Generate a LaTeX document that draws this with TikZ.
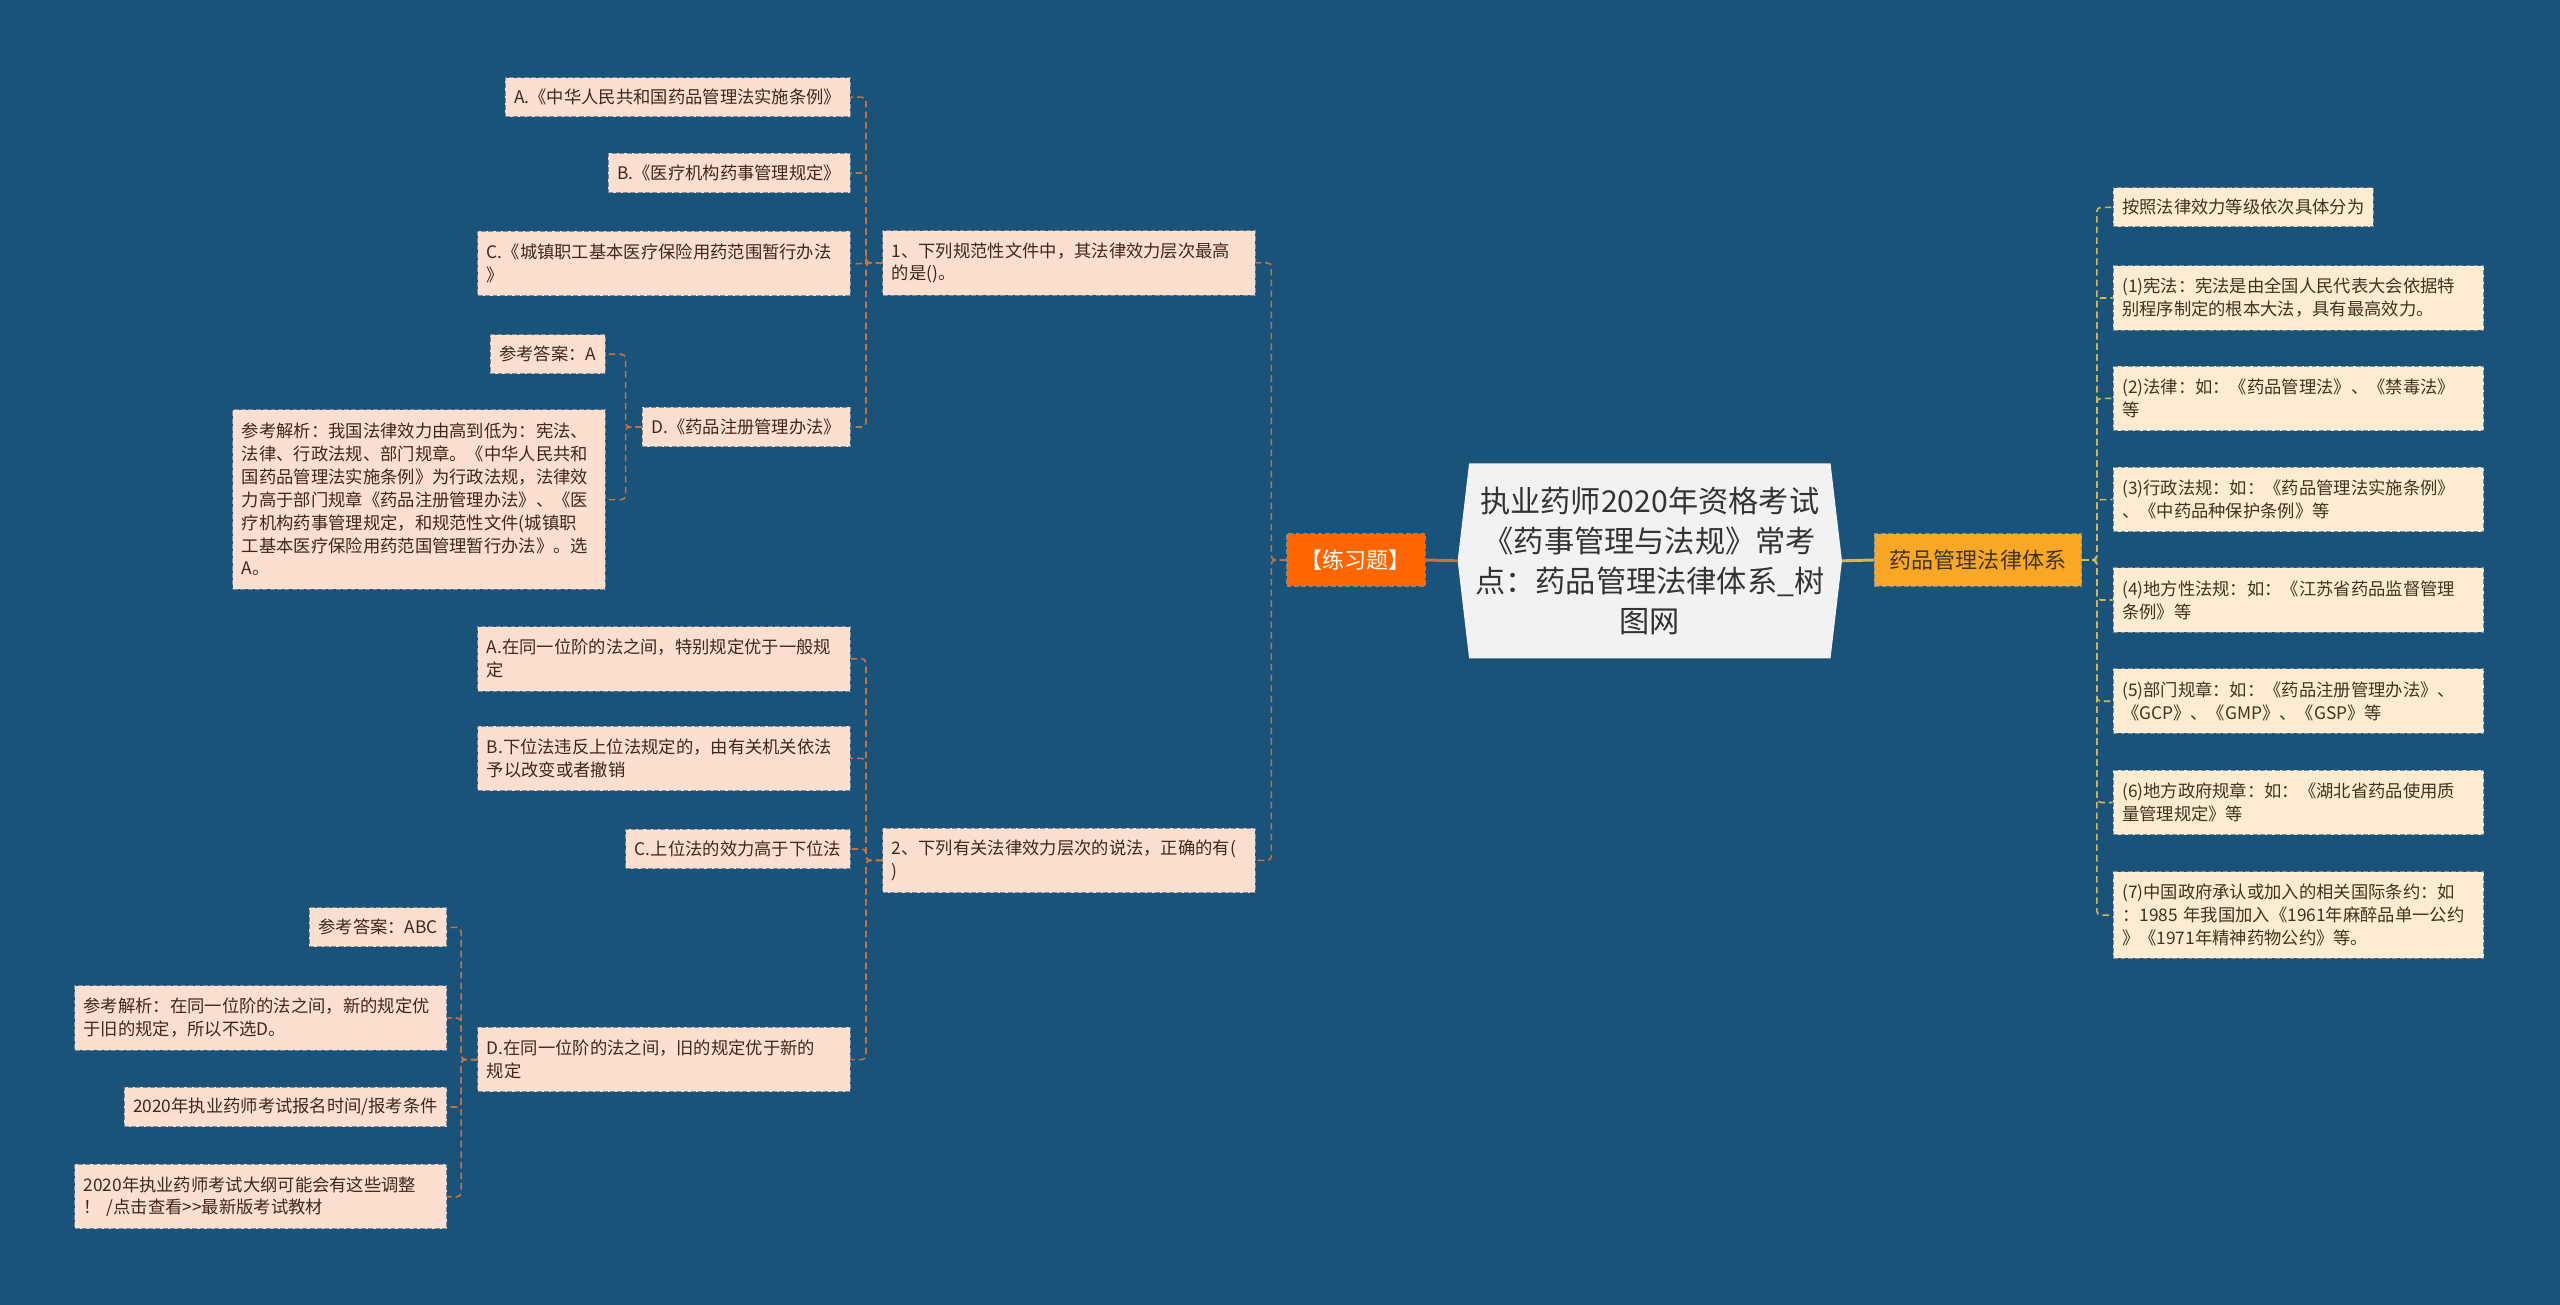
\documentclass[tikz,border=0pt]{standalone}
\usepackage{fontspec}
\setmainfont{Noto Sans CJK SC}
\usetikzlibrary{backgrounds}
\definecolor{bg}{RGB}{26,83,121}
\definecolor{peach}{RGB}{252,223,207}
\definecolor{cream}{RGB}{253,236,209}
\definecolor{ltext}{RGB}{62,40,28}
\definecolor{rtext}{RGB}{66,50,30}
\definecolor{boxline}{RGB}{120,140,160}
\definecolor{lline}{RGB}{200,112,62}
\definecolor{rline}{RGB}{216,182,82}
\definecolor{orng}{RGB}{255,102,0}
\definecolor{ambr}{RGB}{249,168,37}
\definecolor{cfill}{RGB}{242,242,242}
\definecolor{ctext}{RGB}{51,51,51}
\begin{document}
\begin{tikzpicture}[x=1pt,y=-1pt,
  box/.style={rectangle, draw=boxline, line width=0.6pt, dash pattern=on 3pt off 1.5pt,
    inner xsep=5.5pt, inner ysep=2pt, font=\fontsize{10.6pt}{14pt}\selectfont,
    align=left, minimum height=24pt},
  lbox/.style={box, fill=peach, text=ltext, anchor=east},
  rbox/.style={box, fill=cream, text=rtext, anchor=west},
  wl/.style={text width=217pt},
  wr/.style={text width=216pt},
  h2/.style={minimum height=39.5pt},
  h3/.style={minimum height=53pt},
  h7/.style={minimum height=110pt},
  lconn/.style={draw=lline, line width=1pt, dash pattern=on 4pt off 2.5pt, rounded corners=2.5pt},
  rconn/.style={draw=rline, line width=1pt, dash pattern=on 4pt off 2.5pt, rounded corners=2.5pt},
  mainbox/.style={rectangle, draw=boxline, line width=0.6pt, dash pattern=on 3pt off 1.5pt,
    font=\fontsize{13.5pt}{16pt}\selectfont, minimum height=32pt, inner sep=0pt},
]
\begin{scope}[on background layer]
  \fill[bg] (0,0) rectangle (1568,799);
\end{scope}
\useasboundingbox (0,0) rectangle (1568,799);

% center
\node[font=\fontsize{18.5pt}{24.5pt}\selectfont, align=center, text=ctext,
      minimum width=221pt, minimum height=119pt, inner sep=0pt] (c) at (1010.5,343.5)
  {执业药师2020年资格考试\\《药事管理与法规》常考\\点：药品管理法律体系\_树\\图网};
\begin{scope}[on background layer]
  \fill[cfill] (c.north west) -- (c.north east) -- ([xshift=7pt]c.east) -- (c.south east)
    -- (c.south west) -- ([xshift=-7pt]c.west) -- cycle;
\end{scope}
\coordinate (cw) at ([xshift=-7pt]c.west);
\coordinate (ce) at ([xshift=7pt]c.east);

\node[mainbox, fill=orng, text=white, minimum width=85pt] (lx) at (830.5,343) {【练习题】};
\node[mainbox, fill=ambr, text=rtext, minimum width=127pt] (yp) at (1211.5,343) {药品管理法律体系};

% left: questions
\node[lbox, wl, h2] (q1) at (769,161) {1、下列规范性文件中，其法律效力层次最高\\的是()。};
\node[lbox, wl, h2] (q2) at (769,527) {2、下列有关法律效力层次的说法，正确的有(\\)};

\node[lbox] (qa) at (521,59.5) {A.《中华人民共和国药品管理法实施条例》};
\node[lbox] (qb) at (521,106) {B.《医疗机构药事管理规定》};
\node[lbox, wl, h2] (qc) at (521,161.5) {C.《城镇职工基本医疗保险用药范围暂行办法\\》};
\node[lbox] (qd) at (521,261.5) {D.《药品注册管理办法》};

\node[lbox] (d1a) at (371,217) {参考答案：A};
\node[lbox, wl, h7] (d1b) at (371,306) {参考解析：我国法律效力由高到低为：宪法、\\法律、行政法规、部门规章。《中华人民共和\\国药品管理法实施条例》为行政法规，法律效\\力高于部门规章《药品注册管理办法》、《医\\疗机构药事管理规定，和规范性文件(城镇职\\工基本医疗保险用药范国管理暂行办法》。选\\A。};

\node[lbox, wl, h2] (pa) at (521,403.5) {A.在同一位阶的法之间，特别规定优于一般规\\定};
\node[lbox, wl, h2] (pb) at (521,464.5) {B.下位法违反上位法规定的，由有关机关依法\\予以改变或者撤销};
\node[lbox] (pc) at (521,520) {C.上位法的效力高于下位法};
\node[lbox, wl, h2] (pd) at (521,649) {D.在同一位阶的法之间，旧的规定优于新的\\规定};

\node[lbox] (d2a) at (274,568) {参考答案：ABC};
\node[lbox, wl, h2] (d2b) at (274,623.5) {参考解析：在同一位阶的法之间，新的规定优\\于旧的规定，所以不选D。};
\node[lbox] (d2c) at (274,678) {2020年执业药师考试报名时间/报考条件};
\node[lbox, wl, h2] (d2d) at (274,733) {2020年执业药师考试大纲可能会有这些调整\\！ /点击查看{>}{>}最新版考试教材};

% right
\node[rbox] (r0) at (1294,127) {按照法律效力等级依次具体分为};
\node[rbox, wr, h2] (r1) at (1294,182.5) {(1)宪法：宪法是由全国人民代表大会依据特\\别程序制定的根本大法，具有最高效力。};
\node[rbox, wr, h2] (r2) at (1294,244) {(2)法律：如：《药品管理法》、《禁毒法》\\等};
\node[rbox, wr, h2] (r3) at (1294,306) {(3)行政法规：如：《药品管理法实施条例》\\、《中药品种保护条例》等};
\node[rbox, wr, h2] (r4) at (1294,367.5) {(4)地方性法规：如：《江苏省药品监督管理\\条例》等};
\node[rbox, wr, h2] (r5) at (1294,429.5) {(5)部门规章：如：《药品注册管理办法》、\\《GCP》、《GMP》、《GSP》等};
\node[rbox, wr, h2] (r6) at (1294,491.5) {(6)地方政府规章：如：《湖北省药品使用质\\量管理规定》等};
\node[rbox, wr, h3] (r7) at (1294,560.5) {(7)中国政府承认或加入的相关国际条约：如\\：1985 年我国加入《1961年麻醉品单一公约\\》《1971年精神药物公约》等。};

% center connectors
\draw[draw=lline, line width=1.8pt] (lx.east) -- (cw);
\draw[draw=rline, line width=1.8pt] (ce) -- (yp.west);

% left connectors
\foreach \t in {q1,q2} \draw[lconn] (lx.west) -- ++(-9,0) |- (\t.east);
\foreach \t in {qa,qb,qc,qd} \draw[lconn] (q1.west) -- ++(-10,0) |- (\t.east);
\foreach \t in {d1a,d1b} \draw[lconn] (qd.west) -- ++(-10,0) |- (\t.east);
\foreach \t in {pa,pb,pc,pd} \draw[lconn] (q2.west) -- ++(-10,0) |- (\t.east);
\foreach \t in {d2a,d2b,d2c,d2d} \draw[lconn] (pd.west) -- ++(-10,0) |- (\t.east);

% right connectors
\foreach \t in {r0,r1,r2,r3,r4,r5,r6,r7} \draw[rconn] (yp.east) -- ++(9,0) |- (\t.west);
\end{tikzpicture}
\end{document}
